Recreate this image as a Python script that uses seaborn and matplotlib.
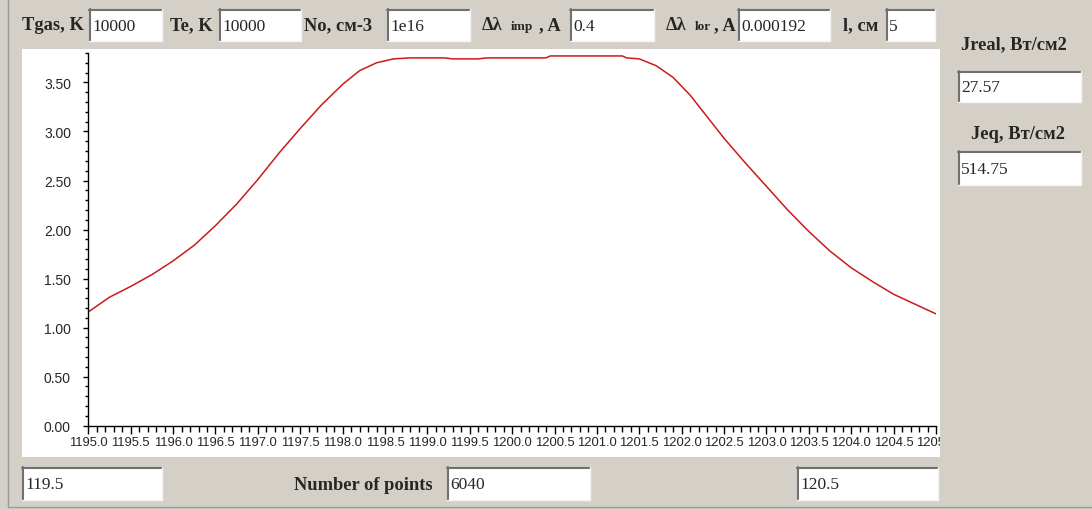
import numpy as np
import seaborn as sns
import matplotlib.pyplot as plt
import matplotlib.transforms as mtransforms
from matplotlib.patches import Rectangle
from matplotlib.lines import Line2D
from matplotlib.ticker import MultipleLocator, FormatStrFormatter

# spectral line profile
wavelength = [1195.00, 1195.25, 1195.50, 1195.75, 1196.00, 1196.25, 1196.50, 1196.75,
              1197.00, 1197.25, 1197.50, 1197.75, 1198.00, 1198.20, 1198.40, 1198.60,
              1198.80, 1199.20, 1199.30, 1199.60, 1199.70, 1200.40, 1200.45, 1201.30,
              1201.35, 1201.50, 1201.70, 1201.90, 1202.10, 1202.30, 1202.50, 1202.75,
              1203.00, 1203.25, 1203.50, 1203.75, 1204.00, 1204.25, 1204.50, 1204.75,
              1205.00]
intensity = [1.16, 1.31, 1.42, 1.54, 1.68, 1.84, 2.04, 2.26,
             2.51, 2.78, 3.03, 3.27, 3.48, 3.62, 3.70, 3.74,
             3.75, 3.75, 3.74, 3.74, 3.75, 3.75, 3.77, 3.77,
             3.75, 3.74, 3.67, 3.55, 3.37, 3.15, 2.93, 2.68,
             2.44, 2.20, 1.98, 1.78, 1.61, 1.47, 1.34, 1.24,
             1.14]

# dialog fields
top_labels = ["Tgas, K", "Te, K", "No, см-3", "l, см"]
top_values = ["10000", "10000", "1e16", "0.4", "0.000192", "5"]
side_labels = ["Jreal, Вт/см2", "Jeq, Вт/см2"]
side_values = ["27.57", "514.75"]
bottom_values = ["119.5", "6040", "120.5"]
points_label = "Number of points"

W, H = 1092, 510
sns.set_style("ticks")
plt.rcParams['font.family'] = ['Liberation Sans', 'DejaVu Sans']

fig = plt.figure(figsize=(W / 100, H / 100), dpi=100, facecolor="#d4d0c8")
px = mtransforms.Affine2D().scale(1 / W, -1 / H).translate(0, 1) + fig.transFigure

serif = ['Liberation Serif', 'DejaVu Serif']


def box(x0, y0, x1, y1, txt):
    fig.add_artist(Rectangle((x0, y0), x1 - x0, y1 - y0, transform=px,
                             facecolor="white", edgecolor="none", zorder=2))
    fig.add_artist(Line2D([x0, x1], [y0 + 1, y0 + 1], transform=px, color="#707070", lw=1.5, zorder=3))
    fig.add_artist(Line2D([x0 + 1, x0 + 1], [y0, y1], transform=px, color="#707070", lw=1.5, zorder=3))
    fig.add_artist(Line2D([x0, x1], [y1, y1], transform=px, color="#f4f4f4", lw=1, zorder=3))
    fig.add_artist(Line2D([x1, x1], [y0, y1], transform=px, color="#f4f4f4", lw=1, zorder=3))
    fig.text(x0 + 3, (y0 + y1) / 2 + 1, txt, transform=px, ha="left", va="center",
             fontsize=12.5, family=serif, zorder=4)


def label(x, y, txt, size=13.3):
    fig.text(x, y, txt, transform=px, ha="left", va="center", fontsize=size,
             family=serif, fontweight="bold", zorder=4)


# window frame lines and white plot panel
fig.add_artist(Line2D([8, 8], [0, 508], transform=px, color="#9a9a9a", lw=1, zorder=1))
fig.add_artist(Line2D([8, W], [508, 508], transform=px, color="#9a9a9a", lw=1, zorder=1))
fig.add_artist(Rectangle((22, 50), 918, 408, transform=px, facecolor="white",
                         edgecolor="none", zorder=-1))

# top row
label(22, 26, top_labels[0])
box(89, 10, 162, 42, top_values[0])
label(170, 26, top_labels[1])
box(219, 10, 301, 42, top_values[1])
label(304, 26, top_labels[2])
box(387, 10, 470, 42, top_values[2])
label(482, 26, "Δλ")
label(511, 27, "imp", size=9.5)
label(539, 26, ", A")
box(570, 10, 654, 42, top_values[3])
label(666, 26, "Δλ")
label(695, 27, "lor", size=9.5)
label(714, 26, ", A")
box(738, 10, 830, 42, top_values[4])
label(843, 26, top_labels[3])
box(886, 10, 935, 42, top_values[5])

# right column
label(961, 45, side_labels[0])
box(958, 72, 1081, 103, side_values[0])
label(971, 135, side_labels[1])
box(958, 152, 1081, 186, side_values[1])

# bottom row
box(22, 468, 162, 501, bottom_values[0])
label(294, 486, points_label)
box(447, 468, 590, 501, bottom_values[1])
box(797, 468, 938, 501, bottom_values[2])

# plot
ax = fig.add_axes([88.3 / W, 1 - 426.7 / H, (936 - 88.3) / W, (426.7 - 54) / H])
ax.set_facecolor("none")
sns.lineplot(x=wavelength, y=intensity, color="#cc1a1a", linewidth=1.1, ax=ax)
ax.set_xlim(1195, 1205)
ax.set_ylim(0, 3.8)
ax.xaxis.set_major_locator(MultipleLocator(0.5))
ax.xaxis.set_minor_locator(MultipleLocator(0.1))
ax.yaxis.set_major_locator(MultipleLocator(0.5))
ax.yaxis.set_minor_locator(MultipleLocator(0.1))
ax.xaxis.set_major_formatter(FormatStrFormatter("%.1f"))
ax.yaxis.set_major_formatter(FormatStrFormatter("%.2f"))
for s in ["top", "right"]:
    ax.spines[s].set_visible(False)
for s in ["left", "bottom"]:
    ax.spines[s].set_color("black")
    ax.spines[s].set_linewidth(1)
ax.tick_params(axis="x", which="major", length=6, width=1, pad=1.5, labelsize=9.4, color="black")
ax.tick_params(axis="x", which="minor", length=4, width=1, color="black")
ax.tick_params(axis="y", which="major", length=3.5, width=1, pad=9, labelsize=10, color="black")
ax.tick_params(axis="y", which="minor", length=2.5, width=1, color="black")
ax.set_xlabel("")
ax.set_ylabel("")

# the panel edge cuts the last tick label
fig.add_artist(Rectangle((940, 430), 60, 40, transform=px, facecolor="#d4d0c8",
                         edgecolor="none", zorder=1))

fig.savefig("out.png", dpi=100, facecolor=fig.get_facecolor())
